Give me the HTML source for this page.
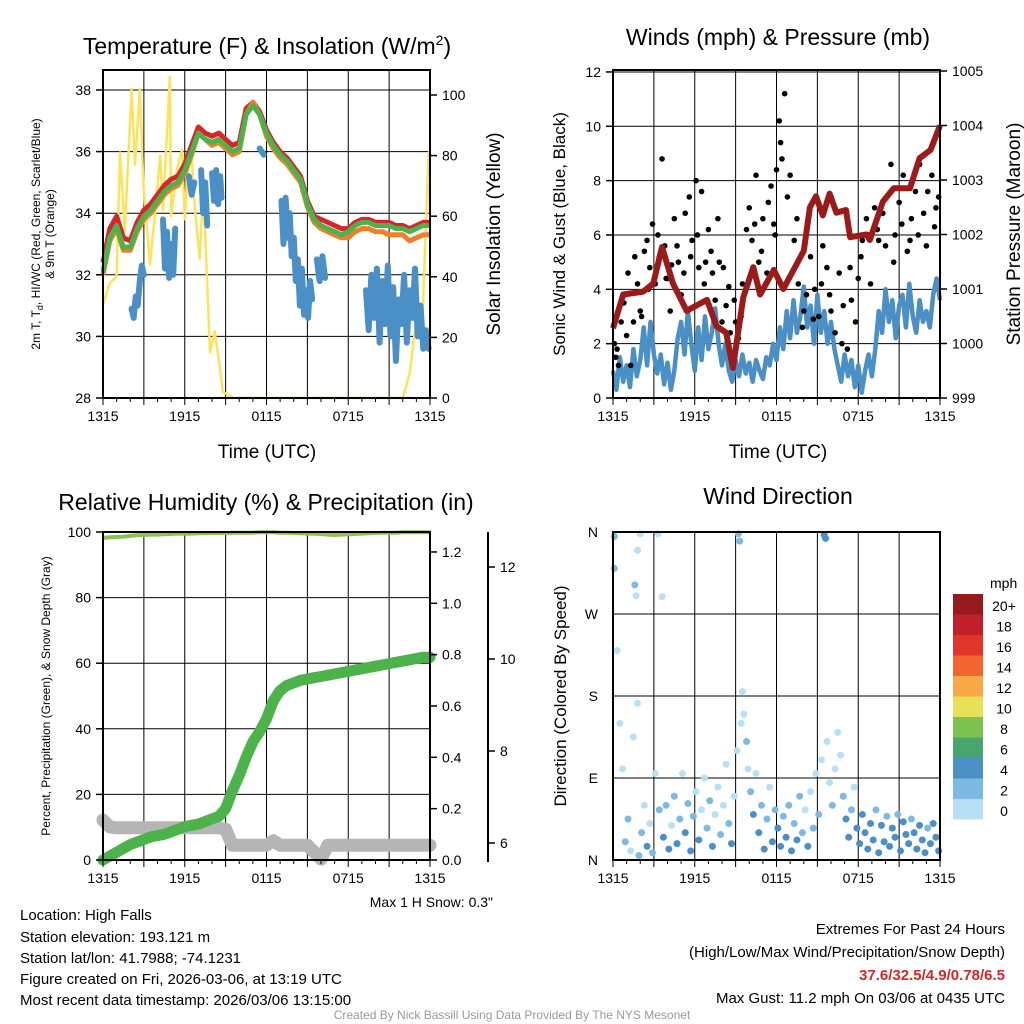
<!DOCTYPE html>
<html><head><meta charset="utf-8"><style>
html,body{margin:0;padding:0;background:#fff;}
svg{display:block;font-family:"Liberation Sans",Arial,sans-serif;}
</style></head><body>
<svg id="c" width="1024" height="1024" viewBox="0 0 1024 1024">
<rect x="0" y="0" width="1024" height="1024" fill="#fff"/>
<g id="grid"></g>
<g id="marks"></g>
<g id="axes">
<rect x="103" y="70" width="327" height="328" fill="none" stroke="#000" stroke-width="2"/>
<rect x="613" y="70" width="327" height="328" fill="none" stroke="#000" stroke-width="2"/>
<rect x="103" y="532" width="327" height="328" fill="none" stroke="#000" stroke-width="2"/>
<rect x="613" y="532" width="327" height="328" fill="none" stroke="#000" stroke-width="2"/>
<line x1="488" y1="532" x2="488" y2="862" stroke="#000" stroke-width="2"/>
</g>
<g id="ticks"></g>
<g font-size="23" text-anchor="middle" fill="#000">
<text x="267" y="54">Temperature (F) &amp; Insolation (W/m<tspan font-size="14" dy="-9">2</tspan><tspan dy="9">)</tspan></text>
<text x="778" y="45">Winds (mph) &amp; Pressure (mb)</text>
<text x="266" y="510">Relative Humidity (%) &amp; Precipitation (in)</text>
<text x="778" y="504">Wind Direction</text>
</g>
<g font-size="19" text-anchor="middle">
<text x="267" y="458">Time (UTC)</text>
<text x="778" y="458">Time (UTC)</text>
<text transform="translate(500,234) rotate(-90)">Solar Insolation (Yellow)</text>
<text transform="translate(1020,234) rotate(-90)">Station Pressure (Maroon)</text>
</g>
<g font-size="17" text-anchor="middle">
<text transform="translate(565,234) rotate(-90)">Sonic Wind &amp; Gust (Blue, Black)</text>
<text transform="translate(566,696) rotate(-90)">Direction (Colored By Speed)</text>
</g>
<g font-size="12" text-anchor="middle">
<text transform="translate(40,234) rotate(-90)">2m T, T<tspan font-size="9" dy="3">d</tspan><tspan dy="-3">, HI/WC (Red, Green, Scarlet/Blue)</tspan></text>
<text transform="translate(54,234) rotate(-90)">&amp; 9m T (Orange)</text>
<text transform="translate(50,696) rotate(-90)">Percent, Precipitation (Green), &amp; Snow Depth (Gray)</text>
</g>
<text x="493" y="907" font-size="14" text-anchor="end">Max 1 H Snow: 0.3"</text>
<g id="cbar">
<text x="990" y="588" font-size="14">mph</text>
</g>
<g font-size="15" fill="#000">
<text x="20" y="920">Location: High Falls</text>
<text x="20" y="942">Station elevation: 193.121 m</text>
<text x="20" y="963">Station lat/lon: 41.7988; -74.1231</text>
<text x="20" y="984">Figure created on Fri, 2026-03-06, at 13:19 UTC</text>
<text x="20" y="1005">Most recent data timestamp: 2026/03/06 13:15:00</text>
</g>
<g font-size="15" text-anchor="end">
<text x="1005" y="934">Extremes For Past 24 Hours</text>
<text x="1005" y="957">(High/Low/Max Wind/Precipitation/Snow Depth)</text>
<text x="1005" y="980" fill="#d7262a" font-weight="bold">37.6/32.5/4.9/0.78/6.5</text>
<text x="1005" y="1003">Max Gust: 11.2 mph On 03/06 at 0435 UTC</text>
</g>
<text x="512" y="1019" font-size="12" fill="#999" text-anchor="middle">Created By Nick Bassill Using Data Provided By The NYS Mesonet</text>
</svg>
<script>
// ---- data (h = hours since 1315 UTC) ----
const xTickLabels = ["1315","1915","0115","0715","1315"];
const tempTicks = [28,30,32,34,36,38];
const insolTicks = [0,20,40,60,80,100];
const windTicks = [0,2,4,6,8,10,12];
const presTicks = [999,1000,1001,1002,1003,1004,1005];
const rhTicks = [0,20,40,60,80,100];
const precipTicks = [0.0,0.2,0.4,0.6,0.8,1.0,1.2];
const snowTicks = [6,8,10,12];
const dirTicks = ["N","E","S","W","N"];
const speedBins = ["0","2","4","6","8","10","12","14","16","18","20+"];

// half-hourly series
const tempRed = [32.4,33.5,33.9,33.2,33.1,33.7,34.1,34.3,34.6,34.9,35.1,35.2,35.6,36.2,36.8,36.6,36.5,36.6,36.4,36.2,36.3,37.4,37.6,37.3,36.7,36.3,36.0,35.8,35.5,35.2,34.4,33.9,33.8,33.7,33.6,33.5,33.5,33.7,33.8,33.8,33.7,33.7,33.7,33.6,33.6,33.5,33.6,33.7,33.7];
const tempGreen = [32.1,33.2,33.6,32.9,32.9,33.5,33.9,34.1,34.4,34.7,34.9,35.0,35.4,36.0,36.6,36.4,36.3,36.4,36.2,36.0,36.1,37.2,37.5,37.2,36.6,36.2,35.9,35.7,35.4,35.1,34.3,33.8,33.6,33.5,33.4,33.3,33.4,33.6,33.7,33.7,33.6,33.6,33.6,33.5,33.5,33.4,33.5,33.6,33.6];
const tempOrange = [32.0,33.1,33.5,32.8,32.8,33.4,33.8,34.0,34.3,34.6,34.8,34.9,35.3,35.9,36.6,36.4,36.2,36.3,36.1,35.9,36.0,37.2,37.6,37.2,36.5,36.1,35.8,35.6,35.3,35.0,34.2,33.7,33.5,33.4,33.3,33.2,33.2,33.4,33.5,33.5,33.4,33.4,33.3,33.3,33.3,33.1,33.2,33.3,33.3];
// irregular series (null breaks segments)
const hiwcHours = [2.1,2.25,2.4,2.55,2.7,2.85,3.0,null,4.4,4.55,4.7,4.85,5.0,5.15,5.3,null,6.3,6.5,6.7,null,7.2,7.35,7.5,7.65,null,8.0,8.15,8.3,8.45,8.6,8.7,null,11.5,11.8,null,13.1,13.25,13.4,13.55,13.7,13.85,14.0,14.15,14.3,14.45,14.6,14.75,14.9,15.05,15.2,15.35,null,15.7,15.9,16.1,16.3,null,19.3,19.5,19.7,19.9,20.1,20.3,20.5,20.7,20.9,21.1,21.3,21.5,21.7,21.9,22.1,22.3,22.5,22.7,22.9,23.1,23.3,23.5,23.7,23.9];
const hiwcValues = [30.9,30.6,31.3,31.0,31.8,32.3,32.0,null,33.8,32.2,33.4,31.9,33.0,32.0,33.5,null,35.2,34.6,35.0,null,35.4,34.0,35.0,33.6,null,35.3,34.4,35.4,34.3,35.2,34.5,null,36.1,35.9,null,34.4,33.0,34.5,33.2,34.0,32.6,33.2,31.8,32.5,31.0,32.2,30.7,31.5,30.6,31.8,31.2,null,32.5,31.8,32.6,31.9,null,31.5,30.2,32.0,30.6,32.2,29.8,31.8,30.4,32.3,30.0,31.6,29.2,31.2,30.4,32.0,29.8,31.5,30.6,32.2,30.0,31.0,29.6,30.2,29.6];
const insolHours = [0,0.5,1.0,1.25,1.6,2.1,2.35,2.7,2.96,3.45,3.8,4.2,4.4,4.67,4.9,5.0,5.4,5.8,6.0,6.3,6.5,6.75,7.1,7.36,7.85,8.2,8.46,8.8,9.56,22.0,22.5,23.0,23.4,23.9,24.0];
const insolValues = [31,38,40,81,55,102,77,102,71,44,60,80,62,85,106,60,75,82,59,82,80,62,46,70,15,22,14,2,0,0,8,26,20,81,60];

const windSpeed = [1.0,0.3,1.5,0.6,1.2,0.4,1.8,0.8,1.4,2.6,1.2,2.8,1.6,0.9,1.6,0.5,1.3,0.3,1.0,2.2,2.8,1.6,3.2,2.0,1.0,2.6,1.4,3.0,1.8,2.4,3.3,2.0,1.2,2.0,1.0,0.6,1.4,0.8,1.6,0.9,1.3,0.6,1.4,1.0,0.7,1.5,1.2,2.0,1.4,2.6,1.8,3.2,2.2,3.6,2.4,3.0,4.1,2.6,3.4,2.0,3.8,2.4,3.2,2.0,2.8,1.8,1.2,0.6,1.6,0.8,1.4,0.4,1.2,0.2,1.0,1.6,0.8,1.8,3.2,2.4,4.0,2.8,3.6,2.2,3.4,3.8,2.6,4.2,3.0,2.4,3.6,2.8,3.2,2.6,3.8,4.4,3.6];
const pressHours = [0,0.75,2.2,2.96,3.6,4.4,5.4,6.9,7.6,8.3,8.8,9.56,10.3,10.8,11.8,12.5,14.0,14.45,14.9,15.4,15.9,16.4,17.1,17.4,18.6,18.85,19.8,20.6,21.8,22.5,23.3,24.0];
const pressValues = [1000.28,1000.9,1000.95,1001.1,1001.77,1001.1,1000.6,1000.8,1000.32,1000.2,999.55,1000.85,1001.4,1000.9,1001.35,1001.0,1001.7,1002.5,1002.7,1002.35,1002.75,1002.4,1002.45,1001.95,1002.0,1001.9,1002.6,1002.85,1002.85,1003.4,1003.55,1004.0];
const gustHours = [0.1,0.2,0.3,0.4,0.6,0.8,1.0,1.3,1.5,1.8,2.0,2.3,2.5,2.7,2.9,3.1,3.3,3.6,3.8,4.0,4.2,4.5,4.8,5.0,5.3,5.6,5.8,6.1,6.3,6.5,6.8,7.0,7.3,7.5,7.8,8.0,8.3,8.6,8.9,9.2,9.5,9.8,10.0,10.2,10.5,10.7,11.0,11.3,11.6,11.8,12.0,12.2,12.4,12.6,12.8,13.0,13.3,13.6,13.9,14.2,14.5,14.8,15.1,15.4,15.7,16.0,16.3,16.6,16.9,17.2,17.5,17.8,18.0,18.3,18.6,18.9,19.2,19.5,19.8,20.1,20.4,20.7,21.0,21.3,21.6,21.9,22.2,22.5,22.8,23.1,23.4,23.7,23.9,1.1,1.6,2.1,2.6,3.4,3.9,4.3,4.7,5.2,5.7,6.2,6.7,7.2,7.7,8.1,8.5,9.0,9.4,10.4,10.9,11.4,11.9,12.3,13.5,14.0,14.7,15.3,15.9,16.8,17.4,18.2,18.8,19.4,20.0,20.6,21.2,21.8,22.4,23.0,23.6];
const gustValues = [2.0,1.5,1.8,1.2,2.8,3.5,2.3,1.2,2.8,4.2,3.2,5.4,5.8,4.8,6.4,4.2,6.0,8.8,5.6,4.4,3.2,6.6,5.0,3.8,6.8,7.4,5.8,8.0,4.8,7.6,5.0,6.2,4.6,3.6,5.0,2.8,3.4,2.4,3.6,2.2,4.2,6.2,7.0,5.8,8.2,5.0,6.6,4.6,7.8,6.4,8.4,10.2,8.8,11.2,7.4,8.2,5.8,4.2,2.6,3.8,5.2,4.0,3.0,5.6,4.8,3.2,2.4,4.6,3.4,1.8,3.6,2.8,4.4,5.8,6.6,4.2,7.0,5.8,6.8,7.4,8.6,6.0,7.2,8.2,5.4,6.6,7.6,8.6,6.8,7.6,8.2,7.0,7.4,4.6,5.2,3.0,4.0,5.2,4.4,4.9,5.6,4.6,5.2,6.0,4.2,5.4,6.6,4.8,4.1,2.8,3.0,6.4,5.4,7.2,6.0,9.4,6.6,3.2,2.9,4.2,3.8,2.0,4.8,5.2,6.0,6.2,5.6,5.0,6.4,5.8,6.0,5.6,6.3];

const rh = [98.2,98.4,98.5,98.6,98.8,99.0,99.1,99.2,99.2,99.3,99.4,99.5,99.5,99.5,99.6,99.6,99.7,99.7,99.7,99.8,99.8,99.8,99.8,99.9,99.9,99.9,99.8,99.8,99.7,99.6,99.5,99.5,99.4,99.2,99.1,99.2,99.3,99.4,99.5,99.6,99.7,99.8,99.8,99.8,99.9,99.9,99.9,99.9,99.9];
const precip = [0,0.015,0.03,0.045,0.06,0.07,0.08,0.09,0.095,0.10,0.11,0.12,0.13,0.135,0.14,0.15,0.16,0.17,0.2,0.27,0.33,0.4,0.46,0.5,0.55,0.62,0.66,0.68,0.69,0.70,0.705,0.71,0.715,0.72,0.725,0.73,0.735,0.74,0.745,0.75,0.755,0.76,0.765,0.77,0.775,0.78,0.785,0.79,0.79];
const snowDepth = [6.5,6.35,6.33,6.33,6.33,6.33,6.33,6.33,6.33,6.33,6.33,6.33,6.33,6.33,6.33,6.33,6.33,6.33,6.3,5.95,5.95,5.95,5.95,5.95,5.95,6.05,5.95,5.95,5.95,5.95,5.95,5.8,5.65,5.95,5.95,5.95,5.95,5.95,5.95,5.95,5.95,5.95,5.95,5.95,5.95,5.95,5.95,5.95,5.95];

const dirHours = [0.1,0.1,0.3,0.5,0.7,0.9,1.1,1.3,1.5,1.6,1.7,1.8,1.8,1.9,2.0,2.1,2.3,2.5,2.7,2.9,3.1,3.3,3.4,3.6,3.7,3.9,4.1,4.3,4.5,4.7,4.9,5.1,5.3,5.5,5.7,5.9,6.1,6.3,6.5,6.7,6.9,7.1,7.3,7.5,7.7,7.9,8.1,8.3,8.5,8.7,8.9,9.1,9.2,9.3,9.4,9.5,9.6,9.8,9.9,10.1,10.3,10.5,10.7,10.9,11.1,11.3,11.5,11.7,11.9,12.1,12.3,12.5,12.7,12.9,13.1,13.3,13.5,13.7,13.9,14.1,14.3,14.5,14.7,14.9,15.1,15.3,15.5,15.6,15.7,15.9,16.1,16.3,16.5,16.7,16.9,17.1,17.3,17.5,17.7,17.9,18.1,18.3,18.5,18.7,18.9,19.1,19.3,19.5,19.7,19.9,20.1,20.3,20.5,20.7,20.9,21.1,21.3,21.5,21.7,21.9,22.1,22.3,22.5,22.7,22.9,23.1,23.3,23.5,23.7,23.9];
const dirDegrees = [355,320,230,150,100,20,45,10,135,302,290,340,172,5,358,30,60,15,40,8,95,358,55,289,25,60,12,38,70,18,45,95,30,62,10,48,75,22,55,90,35,65,15,50,80,28,60,105,40,18,70,120,358,350,150,185,160,130,100,75,50,95,30,60,12,45,80,20,55,35,15,48,25,60,10,40,22,70,30,55,15,75,35,95,50,110,357,353,130,85,60,100,140,115,70,45,25,55,80,35,18,50,30,12,40,22,55,8,38,20,48,15,35,25,50,10,42,28,18,45,30,12,38,22,8,35,18,40,25,10];
const dirSpeeds = [2,3,0,1,1,3,2,1,1,2,0,0,0,2,1,2,1,4,1,2,0,0,2,0,4,2,4,1,2,4,2,0,4,2,4,2,1,4,1,0,2,2,4,1,0,2,1,0,2,4,1,0,3,2,1,0,1,2,1,2,4,1,4,2,4,2,1,4,2,4,5,3,4,2,4,2,4,2,2,1,4,1,2,0,2,0,5,4,1,1,2,0,0,1,2,4,4,2,1,4,4,4,4,4,5,4,2,5,4,4,2,5,4,4,2,5,4,4,5,2,4,5,4,4,5,2,5,4,4,5];
const speedColors = ["#b8e0f5","#7db9e3","#4a8fc6","#47a66f","#7bc251","#e9e05a","#f8a847","#f26531","#e0342c","#c0202a","#951b1e"];

// ---- scales ----
const NS = "http://www.w3.org/2000/svg";
const hx = (x0) => (h) => x0 + h * 327 / 24;
const X1 = hx(103), X2 = hx(613);
const Y1L = v => 398 - (v - 28) * 30.8;
const Y1R = v => 398 - v * 3.03;
const Y2L = v => 398 - v * 27.17;
const Y2R = p => 398 - (p - 999) * 54.5;
const Y3L = v => 860 - v * 3.28;
const Y3R = v => 860 - v * 256.7;
const Y3S = s => 843 - (s - 6) * 46;
const Y4 = d => 860 - d * 328 / 360;

function mk(tag, attrs, parent) {
  const e = document.createElementNS(NS, tag);
  for (const k in attrs) e.setAttribute(k, attrs[k]);
  document.getElementById(parent).appendChild(e);
  return e;
}
function pathXY(hours, vals, X, Y) {
  let d = "", pen = false;
  vals.forEach((v, i) => {
    if (v === null || hours[i] === null) { pen = false; return; }
    d += (pen ? "L" : "M") + X(hours[i]).toFixed(1) + "," + Y(v).toFixed(1);
    pen = true;
  });
  return d;
}
function pathStep(vals, step, X, Y) {
  return pathXY(vals.map((v, i) => i * step), vals, X, Y);
}
function txt(x, y, s, anchor, size, parent) {
  const t = mk("text", {x: x, y: y, "text-anchor": anchor, "font-size": size}, parent);
  t.textContent = s;
  return t;
}

// ---- grids, ticks ----
const panels = [[103,70,398,X1],[613,70,398,X2],[103,532,860,X1],[613,532,860,X2]];
panels.forEach((p) => {
  for (let h = 3; h < 24; h += 3) {
    const x = p[3](h);
    const g = mk("line", {x1: x, y1: p[1], x2: x, y2: p[2], stroke: "#000", "stroke-width": 1}, "grid");
    
    
  }
  xTickLabels.forEach((lab, i) => {
    const x = p[3](i * 6);
    const t = txt(x, p[2] + 23, lab, "middle", 14, "ticks");
    
    
  });
  for (let h = 0; h <= 24; h += 1) {
    const x = p[3](h);
    const tk = mk("line", {x1: x, y1: p[2], x2: x, y2: p[2] + (h % 3 === 0 ? 7 : 4), stroke: "#000", "stroke-width": 1}, "ticks");
    
    
  }
});
function yAxis(ticks, Y, xAxis, side, x0, x1, labelFmt, name) {
  ticks.forEach((v) => {
    const y = Y(v);
    if (x0 !== null) {
      const g = mk("line", {x1: x0, y1: y, x2: x1, y2: y, stroke: "#000", "stroke-width": 1}, "grid");
      
      
    }
    const tk = mk("line", {x1: xAxis, y1: y, x2: xAxis + side * 7, y2: y, stroke: "#000", "stroke-width": 1.5}, "ticks");
    
    
    const t = txt(xAxis + side * 12, y + 5, labelFmt(v), side < 0 ? "end" : "start", 14, "ticks");
    
    
  });
}
yAxis(tempTicks, Y1L, 103, -1, 103, 430, v => String(v), "temp");
yAxis(insolTicks, Y1R, 430, 1, null, null, v => String(v), "insolation");
yAxis(windTicks, Y2L, 613, -1, 613, 940, v => String(v), "wind");
yAxis(presTicks, Y2R, 940, 1, null, null, v => String(v), "pressure");
yAxis(rhTicks, Y3L, 103, -1, 103, 430, v => String(v), "rh");
yAxis(precipTicks, Y3R, 430, 1, null, null, v => v.toFixed(1), "precip");
yAxis(snowTicks, Y3S, 488, 1, null, null, v => String(v), "snow");
dirTicks.forEach((lab, i) => {
  const y = Y4(i * 90);
  const g = mk("line", {x1: 613, y1: y, x2: 940, y2: y, stroke: "#000", "stroke-width": 1}, "grid");
  
  
  const t = txt(598, y + 5, lab, "end", 14, "ticks");
  
  
});

// ---- panel 1 ----
const ins = mk("path", {d: pathXY(insolHours, insolValues, X1, Y1R), fill: "none", stroke: "#fde35b", "stroke-width": 2.5, "stroke-linejoin": "round"}, "marks");


const hiwc = mk("path", {d: pathXY(hiwcHours, hiwcValues, X1, Y1L), fill: "none", stroke: "#4a8fc6", "stroke-width": 6, "stroke-linecap": "round", "stroke-linejoin": "round"}, "marks");


const tr = mk("path", {d: pathStep(tempRed, 0.5, X1, Y1L), fill: "none", stroke: "#d7262a", "stroke-width": 5, "stroke-linejoin": "round"}, "marks");


const to = mk("path", {d: pathStep(tempOrange, 0.5, X1, Y1L), fill: "none", stroke: "#f07f2a", "stroke-width": 5, "stroke-linejoin": "round"}, "marks");


const tg = mk("path", {d: pathStep(tempGreen, 0.5, X1, Y1L), fill: "none", stroke: "#4cb34a", "stroke-width": 5, "stroke-linejoin": "round"}, "marks");



// ---- panel 2 ----
const ws = mk("path", {d: pathStep(windSpeed, 0.25, X2, Y2L), fill: "none", stroke: "#4a8fc6", "stroke-width": 4.5, "stroke-linejoin": "round"}, "marks");


gustHours.forEach((h, i) => {
  const c = mk("circle", {cx: X2(h), cy: Y2L(gustValues[i]), r: 2.8, fill: "#000"}, "marks");
  
  
});
const pr = mk("path", {d: pathXY(pressHours, pressValues, X2, Y2R), fill: "none", stroke: "#9b1b1b", "stroke-width": 6, "stroke-linejoin": "round"}, "marks");



// ---- panel 3 ----
const sn = mk("path", {d: pathStep(snowDepth, 0.5, X1, Y3S), fill: "none", stroke: "#b5b5b5", "stroke-width": 13, "stroke-linecap": "round", "stroke-linejoin": "round"}, "marks");


const rl = mk("path", {d: pathStep(rh, 0.5, X1, Y3L), fill: "none", stroke: "#8cc152", "stroke-width": 4}, "marks");


const pl = mk("path", {d: pathStep(precip, 0.5, X1, Y3R), fill: "none", stroke: "#4cb34a", "stroke-width": 11, "stroke-linecap": "round", "stroke-linejoin": "round"}, "marks");



// ---- panel 4 ----
dirHours.forEach((h, i) => {
  const bin = Math.min(10, Math.floor(dirSpeeds[i] / 2));
  const c = mk("circle", {cx: X2(h), cy: Y4(dirDegrees[i]), r: 3.5, fill: speedColors[bin]}, "marks");
  
  
});
speedBins.forEach((lab, i) => {
  const y = 594 + (10 - i) * 20.5;
  const r = mk("rect", {x: 953, y: y, width: 30, height: 20.5, fill: speedColors[i]}, "cbar");
  
  
  const t = txt(1004, y + 17, lab, "middle", 14, "cbar");
  
  
});
</script>
</body></html>
